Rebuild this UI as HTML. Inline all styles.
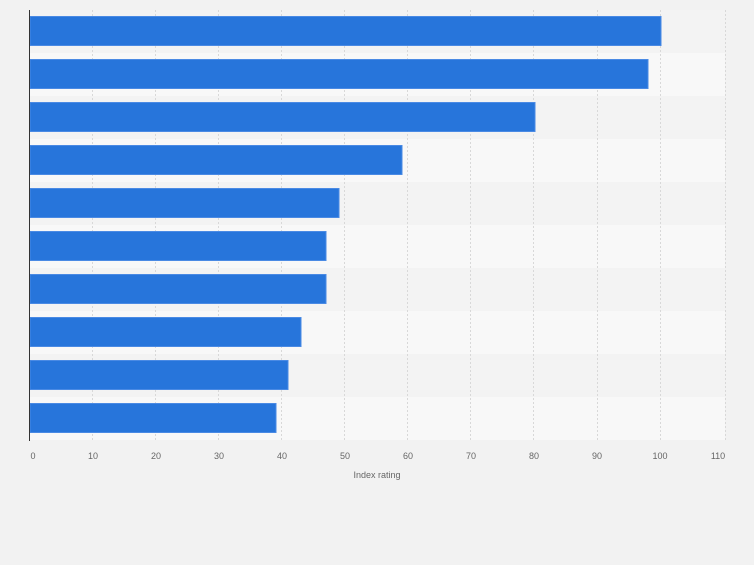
<!DOCTYPE html>
<html><head><style>
body{margin:0;background:#f2f2f2;font-family:"Liberation Sans",sans-serif;}
</style></head><body>
<svg width="754" height="560" xmlns="http://www.w3.org/2000/svg">
<rect width="754" height="560" fill="#f2f2f2"/>
<g id="bands"></g>
<rect x="30" y="10" width="695" height="43" fill="#f3f3f3"/>
<rect x="30" y="53" width="695" height="43" fill="#f8f8f8"/>
<rect x="30" y="96" width="695" height="43" fill="#f3f3f3"/>
<rect x="30" y="139" width="695" height="43" fill="#f8f8f8"/>
<rect x="30" y="182" width="695" height="43" fill="#f3f3f3"/>
<rect x="30" y="225" width="695" height="43" fill="#f8f8f8"/>
<rect x="30" y="268" width="695" height="43" fill="#f3f3f3"/>
<rect x="30" y="311" width="695" height="43" fill="#f8f8f8"/>
<rect x="30" y="354" width="695" height="43" fill="#f3f3f3"/>
<rect x="30" y="397" width="695" height="43" fill="#f8f8f8"/>
<g stroke="#d8d8d8" stroke-dasharray="2,2" stroke-width="1">
<line x1="92.5" y1="10" x2="92.5" y2="440"/>
<line x1="155.5" y1="10" x2="155.5" y2="440"/>
<line x1="218.5" y1="10" x2="218.5" y2="440"/>
<line x1="281.5" y1="10" x2="281.5" y2="440"/>
<line x1="344.5" y1="10" x2="344.5" y2="440"/>
<line x1="407.5" y1="10" x2="407.5" y2="440"/>
<line x1="470.5" y1="10" x2="470.5" y2="440"/>
<line x1="533.5" y1="10" x2="533.5" y2="440"/>
<line x1="597.5" y1="10" x2="597.5" y2="440"/>
<line x1="660.5" y1="10" x2="660.5" y2="440"/>
<line x1="725.5" y1="10" x2="725.5" y2="440"/>
</g>
<g fill="#2775db" stroke="#4a8ae4" stroke-width="1">
<rect x="30" y="16.5" width="631" height="29"/>
<rect x="30" y="59.5" width="618" height="29"/>
<rect x="30" y="102.5" width="505" height="29"/>
<rect x="30" y="145.5" width="372" height="29"/>
<rect x="30" y="188.5" width="309" height="29"/>
<rect x="30" y="231.5" width="296" height="29"/>
<rect x="30" y="274.5" width="296" height="29"/>
<rect x="30" y="317.5" width="271" height="29"/>
<rect x="30" y="360.5" width="258" height="29"/>
<rect x="30" y="403.5" width="246" height="29"/>
</g>
<line x1="29.5" y1="10" x2="29.5" y2="441" stroke="#333" stroke-width="1"/>
<g font-size="9" fill="#666" text-anchor="middle">
<text x="33" y="459">0</text>
<text x="93" y="459">10</text>
<text x="156" y="459">20</text>
<text x="219" y="459">30</text>
<text x="282" y="459">40</text>
<text x="345" y="459">50</text>
<text x="408" y="459">60</text>
<text x="471" y="459">70</text>
<text x="534" y="459">80</text>
<text x="597" y="459">90</text>
<text x="660" y="459">100</text>
<text x="718" y="459">110</text>
<text x="377" y="478">Index rating</text>
</g>
</svg>
</body></html>
